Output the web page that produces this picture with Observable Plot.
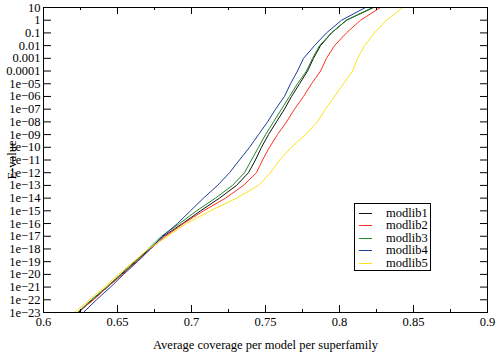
<!DOCTYPE html>
<html><head><meta charset="utf-8">
<script src="https://cdn.jsdelivr.net/npm/d3@7"></script>
<script src="https://cdn.jsdelivr.net/npm/@observablehq/plot@0.6"></script>
<style>
body{margin:0;background:#fff;}
#wrap{position:relative;width:500px;height:356px;}
#legend{position:absolute;left:354px;top:203px;width:77px;height:68px;border:1px solid #000;background:#fff;box-sizing:border-box;font-family:"Liberation Serif","Times New Roman",serif;font-size:12.5px;padding-top:3px;}
.row{display:flex;align-items:center;height:12.5px;}
.sw{width:13px;height:0;border-top:1px solid;margin-left:4px;margin-right:14px;}
</style>
</head><body>
<div id="wrap"><div id="legend"></div></div>
<script>
const series = ["modlib1", "modlib2", "modlib3", "modlib4", "modlib5"];
const colors = ["#111111", "#ff3020", "#1e8a2a", "#1d3d96", "#ffe11a"];
const evalue = [1e-23, 1e-22, 1e-21, 1e-20, 1e-19, 1e-18, 1e-17, 1e-16, 1e-15, 1e-14, 1e-13, 1e-12, 1e-11, 1e-10, 1e-9, 1e-8, 1e-7, 1e-6, 1e-5, 1e-4, 1e-3, 1e-2, 1e-1, 1, 10];
const modlib1 = [0.6236, 0.6331, 0.6432, 0.6527, 0.6622, 0.6716, 0.6811, 0.6939, 0.7061, 0.7189, 0.7304, 0.7385, 0.7432, 0.7473, 0.7520, 0.7574, 0.7628, 0.7676, 0.7730, 0.7784, 0.7824, 0.7872, 0.7946, 0.8047, 0.8230];
const modlib2 = [0.6230, 0.6338, 0.6432, 0.6534, 0.6628, 0.6723, 0.6824, 0.6946, 0.7081, 0.7230, 0.7351, 0.7439, 0.7480, 0.7527, 0.7581, 0.7642, 0.7696, 0.7757, 0.7811, 0.7872, 0.7912, 0.7966, 0.8047, 0.8142, 0.8277];
const modlib3 = [0.6230, 0.6324, 0.6426, 0.6520, 0.6615, 0.6709, 0.6797, 0.6919, 0.7034, 0.7162, 0.7277, 0.7358, 0.7405, 0.7453, 0.7500, 0.7554, 0.7608, 0.7662, 0.7716, 0.7777, 0.7818, 0.7865, 0.7946, 0.8047, 0.8223];
const modlib4 = [0.6270, 0.6358, 0.6453, 0.6541, 0.6635, 0.6723, 0.6804, 0.6905, 0.6993, 0.7081, 0.7176, 0.7257, 0.7324, 0.7392, 0.7453, 0.7514, 0.7568, 0.7628, 0.7669, 0.7716, 0.7757, 0.7831, 0.7912, 0.8014, 0.8176];
const modlib5 = [0.6209, 0.6311, 0.6412, 0.6507, 0.6608, 0.6709, 0.6838, 0.6966, 0.7128, 0.7304, 0.7453, 0.7534, 0.7595, 0.7676, 0.7770, 0.7851, 0.7905, 0.7966, 0.8027, 0.8088, 0.8122, 0.8169, 0.8236, 0.8318, 0.8426];
const xMajor = [0.6, 0.65, 0.7, 0.75, 0.8, 0.85, 0.9];
const xMajorLabels = ["0.6", "0.65", "0.7", "0.75", "0.8", "0.85", "0.9"];
const xMinor = [0.625, 0.675, 0.725, 0.775, 0.825, 0.875];
const yTickValues = [1e-23, 1e-22, 1e-21, 1e-20, 1e-19, 1e-18, 1e-17, 1e-16, 1e-15, 1e-14, 1e-13, 1e-12, 1e-11, 1e-10, 1e-9, 1e-8, 1e-7, 1e-6, 1e-5, 1e-4, 1e-3, 1e-2, 1e-1, 1, 10];
const yTickLabels = ["1e\u221223", "1e\u221222", "1e\u221221", "1e\u221220", "1e\u221219", "1e\u221218", "1e\u221217", "1e\u221216", "1e\u221215", "1e\u221214", "1e\u221213", "1e\u221212", "1e\u221211", "1e\u221210", "1e\u221209", "1e\u221208", "1e\u221207", "1e\u221206", "1e\u221205", "0.0001", "0.001", "0.01", "0.1", "1", "10"];

const cov = [modlib1, modlib2, modlib3, modlib4, modlib5];
const rows = series.flatMap((s, i) => cov[i].map((c, j) => ({series: s, coverage: c, evalue: evalue[j]})));

const plot = Plot.plot({
  width: 500, height: 356,
  marginLeft: 43, marginRight: 13, marginTop: 7, marginBottom: 44,
  style: {fontFamily: "Liberation Serif, Times New Roman, serif", fontSize: "12.5px", background: "transparent", color: "#000"},
  x: {domain: [0.6, 0.9]},
  y: {type: "log", domain: [1e-23, 10]},
  color: {domain: series, range: colors},
  marks: [
    Plot.line(rows, {x: "coverage", y: "evalue", stroke: "series", z: "series", strokeWidth: 1}),
    Plot.tickY(yTickValues, {y: d => d, insetRight: 436, stroke: "#000"}),
    Plot.tickY(yTickValues, {y: d => d, insetLeft: 437, stroke: "#000"}),
    Plot.tickX(xMajor, {x: d => d, insetTop: 298, stroke: "#000"}),
    Plot.tickX(xMinor, {x: d => d, insetTop: 302, stroke: "#000"}),
    Plot.tickX(xMajor, {x: d => d, insetBottom: 298, stroke: "#000"}),
    Plot.tickX(xMinor, {x: d => d, insetBottom: 302, stroke: "#000"}),
    Plot.frame({stroke: "#000"}),
    Plot.axisX({ticks: xMajor, tickSize: 0, tickPadding: 5, tickFormat: d => xMajorLabels[xMajor.indexOf(d)],
      label: "Average coverage per model per superfamily", labelAnchor: "center", labelOffset: 36, labelArrow: "none"}),
    Plot.axisY({ticks: yTickValues, tickSize: 0, tickPadding: 3, tickFormat: d => yTickLabels[yTickValues.indexOf(d)],
      label: "E-value", labelAnchor: "center", labelOffset: 36, labelArrow: "none"})
  ]
});
document.getElementById("wrap").prepend(plot);

const legend = document.getElementById("legend");
series.forEach((s, i) => {
  const r = document.createElement("div");
  r.className = "row";
  r.innerHTML = `<span class="sw" style="border-color:${colors[i]}"></span><span>${s}</span>`;
  legend.appendChild(r);
});
</script>
</body></html>
